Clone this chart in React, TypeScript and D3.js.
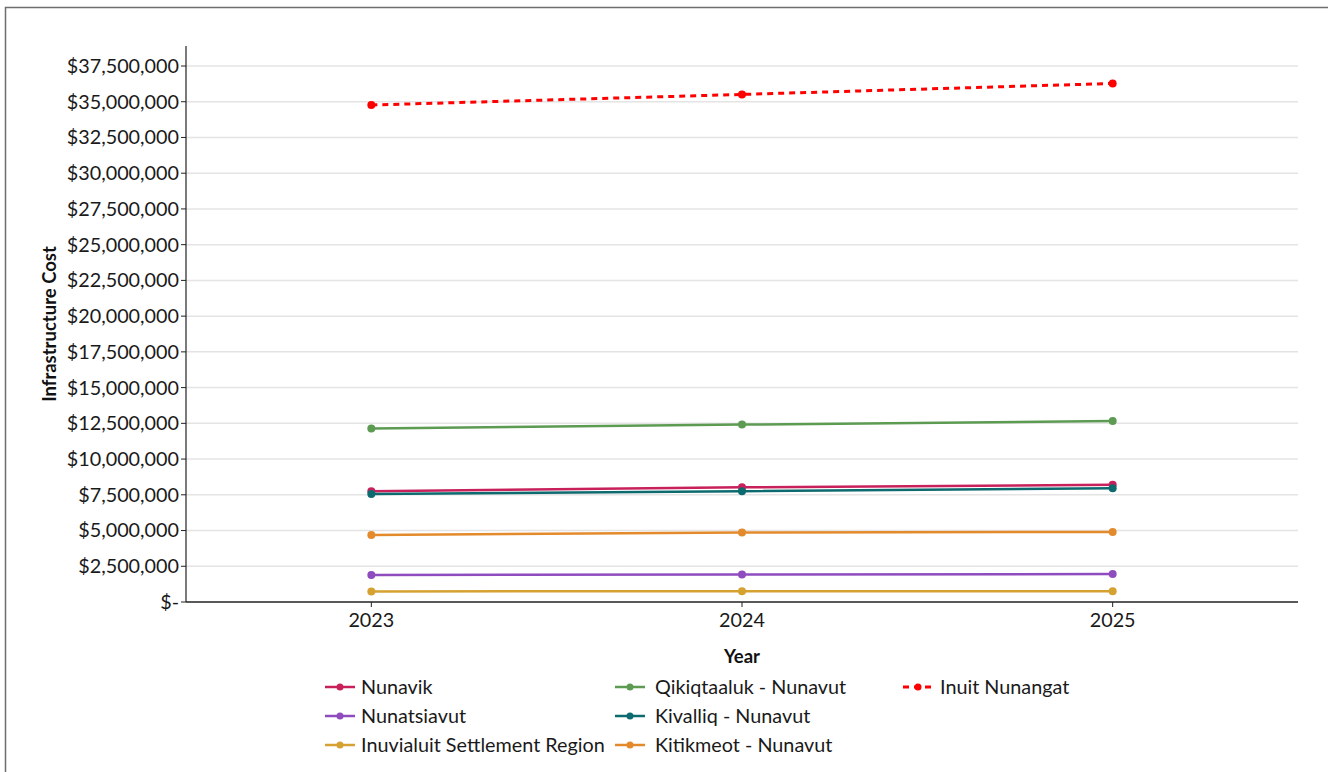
import React from "react";
import * as d3 from "d3";

const years = ["2023", "2024", "2025"];

const nunavik = [7750000, 8020000, 8200000];
const qikiqtaaluk = [12140000, 12410000, 12660000];
const inuitNunangat = [34770000, 35510000, 36280000];
const nunatsiavut = [1890000, 1920000, 1960000];
const kivalliq = [7560000, 7750000, 7950000];
const inuvialuit = [740000, 750000, 760000];
const kitikmeot = [4690000, 4860000, 4900000];

const yTicks = [0, 2500000, 5000000, 7500000, 10000000, 12500000, 15000000, 17500000, 20000000, 22500000, 25000000, 27500000, 30000000, 32500000, 35000000, 37500000];

type Series = { name: string; values: number[]; color: string; dashed?: boolean };

// drawing order: lowest layers first
const series: Series[] = [
  { name: "Inuvialuit Settlement Region", values: inuvialuit, color: "#d5a232" },
  { name: "Nunatsiavut", values: nunatsiavut, color: "#8f4cbf" },
  { name: "Kitikmeot - Nunavut", values: kitikmeot, color: "#e38b2c" },
  { name: "Nunavik", values: nunavik, color: "#c8205a" },
  { name: "Kivalliq - Nunavut", values: kivalliq, color: "#0d6a6f" },
  { name: "Qikiqtaaluk - Nunavut", values: qikiqtaaluk, color: "#5d9b52" },
  { name: "Inuit Nunangat", values: inuitNunangat, color: "#ff0000", dashed: true },
];

// legend layout: columns of names
const legendColumns = [
  ["Nunavik", "Nunatsiavut", "Inuvialuit Settlement Region"],
  ["Qikiqtaaluk - Nunavut", "Kivalliq - Nunavut", "Kitikmeot - Nunavut"],
  ["Inuit Nunangat"],
];

const W = 1328;
const H = 772;
const left = 186;
const right = 1298;
const top = 46;
const bottom = 602;
const FONT = "Lato, 'Open Sans', sans-serif";
const FS = 19.8;

function fmt(v: number) {
  return v === 0 ? "$-" : "$" + d3.format(",")(v);
}

export default function App() {
  const x = d3.scalePoint<string>().domain(years).range([left, right]).padding(0.5);
  const y = d3.scaleLinear().domain([0, 37500000]).range([bottom, bottom - 536]);
  const line = d3
    .line<number>()
    .x((_, i) => x(years[i]) as number)
    .y((d) => y(d));

  const byName = new Map(series.map((s) => [s.name, s]));
  const colX = [325, 615, 903];
  const colText = [361, 655, 940];
  const rowY = [687, 716, 745];

  return (
    <svg
      width={W}
      height={H}
      style={{ position: "fixed", left: 0, top: 0, background: "#fff" }}
      fontFamily={FONT}
    >
      <rect x={5.5} y={7.5} width={W + 20} height={H + 20} fill="#fff" stroke="#6e6e6e" strokeWidth={1.5} />

      {/* gridlines */}
      {yTicks.slice(1).map((t) => (
        <line key={t} x1={left} x2={right} y1={y(t)} y2={y(t)} stroke="#e4e4e4" strokeWidth={1.5} />
      ))}

      {/* y axis */}
      <line x1={left} x2={left} y1={top} y2={bottom} stroke="#222" strokeWidth={1.2} />
      {yTicks.map((t) => (
        <g key={t}>
          <line x1={left - 5} x2={left} y1={y(t)} y2={y(t)} stroke="#222" strokeWidth={1} />
          <text x={left - 7} y={y(t)} dy="0.35em" textAnchor="end" fontSize={FS} fill="#1a1a1a">
            {fmt(t)}
          </text>
        </g>
      ))}

      {/* x axis */}
      <line x1={left} x2={right} y1={bottom} y2={bottom} stroke="#222" strokeWidth={1.5} />
      {years.map((yr) => (
        <g key={yr}>
          <line x1={x(yr)} x2={x(yr)} y1={bottom} y2={bottom + 5} stroke="#222" strokeWidth={1} />
          <text x={x(yr)} y={bottom + 18} dy="0.35em" textAnchor="middle" fontSize={FS} fill="#1a1a1a">
            {yr}
          </text>
        </g>
      ))}

      <text x={x("2024")} y={657} dy="0.35em" textAnchor="middle" fontSize={18.5} fontWeight="bold" fill="#111">
        Year
      </text>
      <text
        transform={`translate(50, ${(top + bottom) / 2}) rotate(-90)`}
        dy="0.35em"
        textAnchor="middle"
        fontSize={18.5}
        fontWeight="bold"
        fill="#111"
      >
        Infrastructure Cost
      </text>

      {/* series */}
      {series.map((s) => (
        <g key={s.name}>
          <path
            d={line(s.values) || ""}
            fill="none"
            stroke={s.color}
            strokeWidth={s.dashed ? 3 : 2.5}
            strokeDasharray={s.dashed ? "6 5" : undefined}
          />
          {s.values.map((v, i) => (
            <circle key={i} cx={x(years[i])} cy={y(v)} r={4} fill={s.color} />
          ))}
        </g>
      ))}

      {/* legend */}
      {legendColumns.map((col, ci) =>
        col.map((name, ri) => {
          const s = byName.get(name)!;
          const lx = colX[ci];
          const ly = rowY[ri];
          return (
            <g key={name}>
              <line
                x1={lx}
                x2={lx + 30}
                y1={ly}
                y2={ly}
                stroke={s.color}
                strokeWidth={s.dashed ? 3 : 2.5}
                strokeDasharray={s.dashed ? "6 5" : undefined}
              />
              <circle cx={lx + 15} cy={ly} r={3.5} fill={s.color} />
              <text x={colText[ci]} y={ly} dy="0.35em" fontSize={FS} fill="#1a1a1a">
                {name}
              </text>
            </g>
          );
        })
      )}
    </svg>
  );
}
